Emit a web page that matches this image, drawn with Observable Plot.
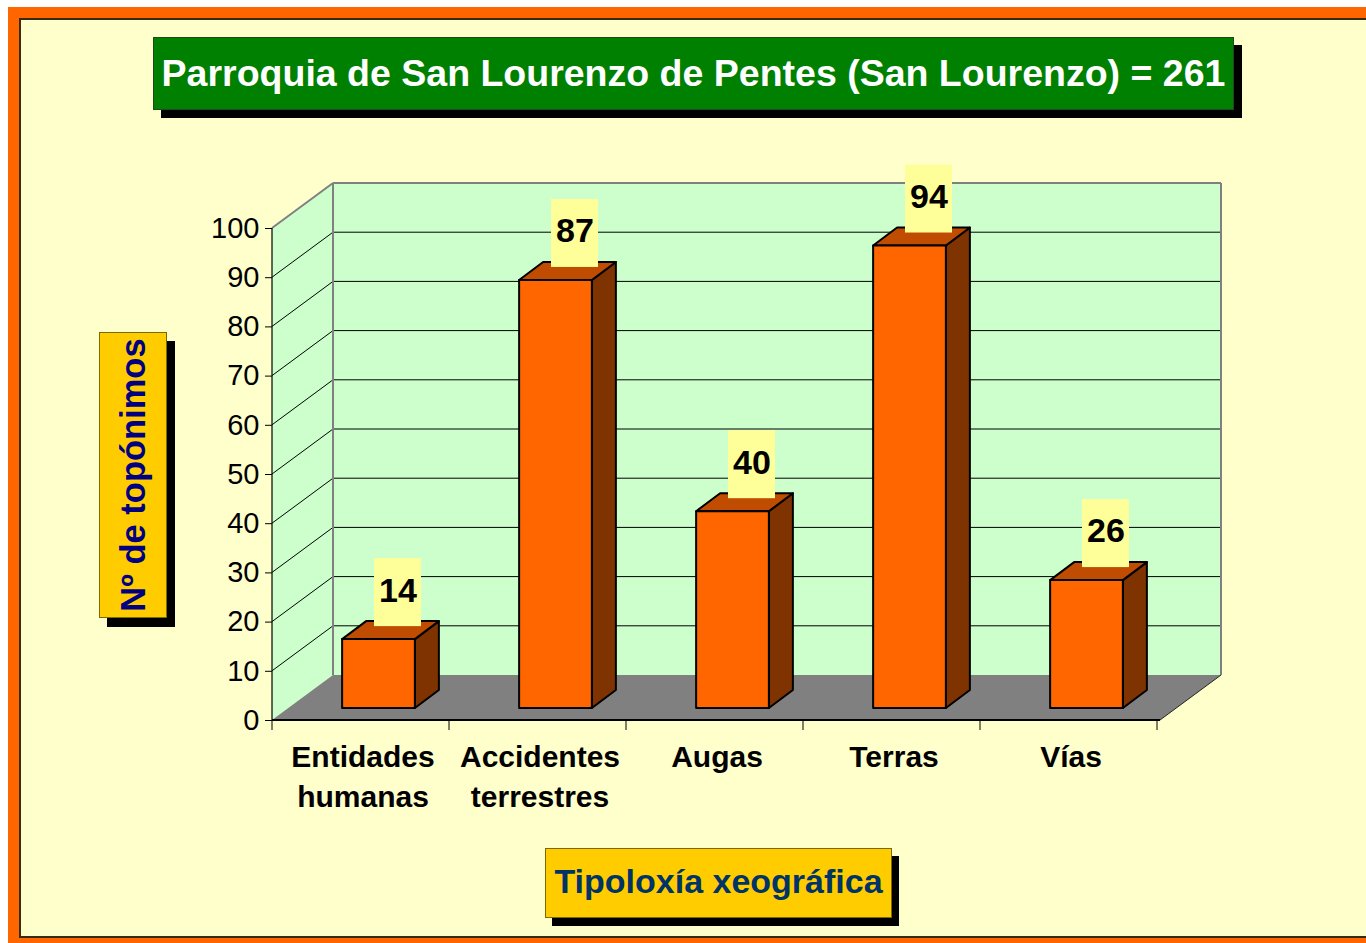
<!DOCTYPE html>
<html>
<head>
<meta charset="utf-8">
<script src="https://cdn.jsdelivr.net/npm/d3@7"></script>
<script src="https://cdn.jsdelivr.net/npm/@observablehq/plot@0.6"></script>
<style>
  html, body { margin: 0; padding: 0; }
  body { width: 1366px; height: 943px; overflow: hidden; position: relative; background: #ffffff;
         font-family: "Liberation Sans", Arial, sans-serif; }
  #frame { position: absolute; left: 8px; top: 7px; width: 1400px; height: 960px; background: #FF6600; }
  #inner { position: absolute; left: 19px; top: 18px; width: 1400px; height: 916px; background: #FFFFCC;
           border-left: 2px solid #3a2a12; border-top: 2px solid #3a2a12; border-bottom: 2px solid #3a2a12; }
  #chart { position: absolute; left: 0; top: 0; }
  .box { position: absolute; box-sizing: border-box; font-weight: bold; text-align: center; white-space: nowrap; }
  #title { left: 153px; top: 37px; width: 1081px; height: 73px; background: #008000; border: 1px solid #1e4a1e;
           box-shadow: 8px 8px 0 #000; color: #ffffff; font-size: 37.5px; line-height: 70px; }
  #ytitle { left: 99px; top: 332px; width: 68px; height: 286px; background: #FFCC00; border: 1px solid #7a6a00;
            box-shadow: 8px 9px 0 #000; color: #000080; font-size: 34.5px; }
  #ytitle span { position: absolute; left: 50%; top: 50%; transform: translate(-50%, -50%) rotate(-90deg); line-height: 1; }
  #xtitle { left: 545px; top: 848px; width: 347px; height: 70px; background: #FFCC00; border: 1px solid #7a6a00;
            box-shadow: 7px 8px 0 #000; color: #003366; font-size: 34px; line-height: 64px; }
  .chart [aria-label="x-axis tick label"] text { font-weight: bold; }
</style>
</head>
<body>
<div id="frame"></div>
<div id="inner"></div>
<div id="chart"></div>
<div class="box" id="title">Parroquia de San Lourenzo de Pentes (San Lourenzo) = 261</div>
<div class="box" id="ytitle"><span>Nº de topónimos</span></div>
<div class="box" id="xtitle">Tipoloxía xeográfica</div>
<script>
// ---- data ----
const categories = ["Entidades humanas", "Accidentes terrestres", "Augas", "Terras", "Vías"];
const values = [14, 87, 40, 94, 26];
const yTicks = [0, 10, 20, 30, 40, 50, 60, 70, 80, 90, 100];
const yDomain = [0, 100];

const data = categories.map((c, i) => ({cat: c, value: values[i]}));

// ---- 3D look (pixel offsets) ----
const wallDepth = [61, -45];   // back wall offset
const barFront = [16, -12];    // bar front face offset
const barDepth = [24, -18];    // bar thickness
const barFrac = 0.411;         // bar width as fraction of band
const labelShift = 19;         // label box offset from bar centre

function scene(index, scales, vals, dims) {
  const x = scales.x, y = scales.y;
  const x0 = dims.marginLeft, x1 = dims.width - dims.marginRight;
  const bw = x.bandwidth ? x.bandwidth() : (x1 - x0) / categories.length;
  const y0 = y(yDomain[0]), yT = y(yDomain[1]);
  const [wx, wy] = wallDepth;
  const g = d3.create("svg:g");
  const line = (a, b, c, d, stroke, w) => g.append("line").attr("x1", a).attr("y1", b).attr("x2", c).attr("y2", d)
      .attr("stroke", stroke).attr("stroke-width", w);
  // walls
  g.append("path").attr("d", `M${x0},${y0}L${x0+wx},${y0+wy}L${x0+wx},${yT+wy}L${x0},${yT}Z`).attr("fill", "#CCFFCC");
  g.append("rect").attr("x", x0 + wx).attr("y", yT + wy).attr("width", x1 - x0).attr("height", y0 - yT).attr("fill", "#CCFFCC");
  // gridlines
  for (const v of yTicks) {
    if (v === yDomain[0] || v === yDomain[1]) continue;
    const yy = y(v);
    line(x0, yy, x0 + wx, yy + wy, "#000", 1);
    line(x0 + wx, yy + wy, x1 + wx, yy + wy, "#000", 1);
  }
  // floor
  g.append("path").attr("d", `M${x0},${y0}L${x1},${y0}L${x1+wx},${y0+wy}L${x0+wx},${y0+wy}Z`).attr("fill", "#808080");
  // wall edges
  line(x0, yT, x0 + wx, yT + wy, "#808080", 2);
  line(x0 + wx, yT + wy, x1 + wx, yT + wy, "#808080", 2);
  line(x1 + wx, yT + wy, x1 + wx, y0 + wy, "#808080", 2);
  line(x0 + wx, yT + wy, x0 + wx, y0 + wy, "#808080", 2);
  line(x1, y0, x1 + wx, y0 + wy, "#222", 1);
  // front axes
  line(x0, yT, x0, y0, "#000", 1.2);
  line(x0, y0, x1, y0, "#000", 2);
  for (let i = 0; i <= categories.length; i++) {
    const xx = x0 + i * bw;
    line(xx, y0, xx, y0 + 10, "#000", 1);
  }
  // bars
  const [fx, fy] = barFront, [dx, dy] = barDepth;
  const bwid = bw * barFrac;
  for (const d of data) {
    const cx = x(d.cat) + bw / 2 + fx;
    const l = cx - bwid / 2, r = cx + bwid / 2;
    const t = y(d.value) + fy, b = y(0) + fy;
    const common = s => s.attr("stroke", "#000").attr("stroke-width", 2).attr("stroke-linejoin", "round");
    common(g.append("path").attr("d", `M${r},${t}L${r+dx},${t+dy}L${r+dx},${b+dy}L${r},${b}Z`).attr("fill", "#7F3300"));
    common(g.append("path").attr("d", `M${l},${t}L${l+dx},${t+dy}L${r+dx},${t+dy}L${r},${t}Z`).attr("fill", "#BF4C00"));
    common(g.append("rect").attr("x", l).attr("y", t).attr("width", r - l).attr("height", b - t).attr("fill", "#FF6600"));
  }
  // label boxes
  for (const d of data) {
    const cx = x(d.cat) + bw / 2 + fx + labelShift;
    const t = y(d.value) + fy;
    g.append("rect").attr("x", cx - 23.5).attr("y", t - 13 - 68).attr("width", 47).attr("height", 68).attr("fill", "#FFFF99");
  }
  return g.node();
}

const chart = Plot.plot({
  width: 1366,
  height: 943,
  marginLeft: 272,
  marginRight: 206,
  marginTop: 228,
  marginBottom: 223,
  className: "chart",
  style: {background: "transparent", fontFamily: "'Liberation Sans', Arial, sans-serif", color: "#000", overflow: "visible"},
  x: {type: "band", domain: categories, padding: 0},
  y: {domain: yDomain},
  marks: [
    scene,
    Plot.axisY({ticks: yTicks, tickSize: 7, tickPadding: 6, fontSize: 29, label: null}),
    Plot.axisX({tickSize: 0, tickPadding: 18, fontSize: 30, fontWeight: "bold", lineHeight: 1.333, label: null,
                tickFormat: d => d.replace(" ", "\n")}),
    Plot.text(data, {x: "cat", y: "value", text: d => String(d.value), dx: barFront[0] + labelShift,
                     dy: barFront[1] - 13 - 36, fontSize: 34, fontWeight: "bold", fill: "#000"})
  ]
});
document.getElementById("chart").appendChild(chart);
</script>
</body>
</html>
